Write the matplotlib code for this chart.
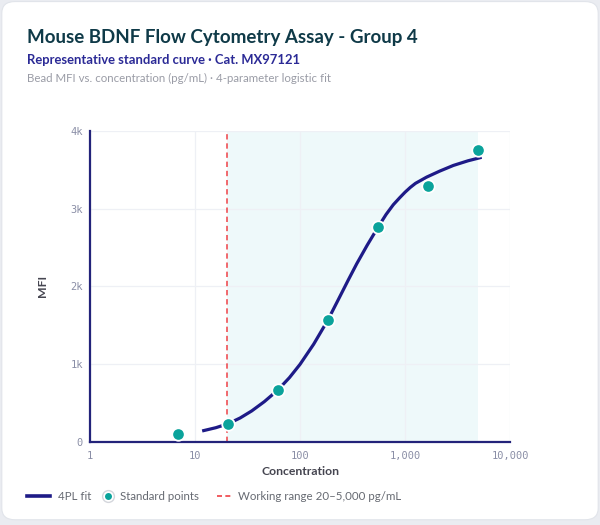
import matplotlib
matplotlib.use("Agg")
import matplotlib.pyplot as plt
from matplotlib.patches import FancyBboxPatch
from matplotlib.lines import Line2D
from matplotlib.ticker import FixedLocator, NullLocator

# standard points (3-fold dilution series)
std_conc = [6.86, 20.58, 61.73, 185.2, 555.6, 1666.7, 5000]
std_mfi = [95, 228, 666, 1568, 2758, 3286, 3759]

# 4PL fit curve
fit_conc = [11.7, 15.8, 20.6, 26.9, 34.7, 45.7, 61.2, 79.4, 100, 135, 184, 232,
            288, 347, 437, 553, 661, 774, 891, 1000, 1122, 1259, 1607, 2138,
            2884, 3981, 5370]
fit_mfi = [138, 180, 230, 305, 396, 515, 662, 825, 995, 1255, 1564, 1830,
           2080, 2290, 2530, 2760, 2925, 3050, 3140, 3210, 3272, 3325, 3405,
           3482, 3555, 3615, 3660]

work_lo, work_hi = 20, 5000

x_ticks = [1, 10, 100, 1000, 10000]
x_labels = ["1", "10", "100", "1,000", "10,000"]
y_ticks = [0, 1000, 2000, 3000, 4000]
y_labels = ["0", "1k", "2k", "3k", "4k"]

sans = ["Lato", "DejaVu Sans"]
mono = ["DejaVu Sans Mono"]
navy = "#1e1b87"
teal = "#0aa39b"
red = "#ef4146"

fig = plt.figure(figsize=(6, 5.25), dpi=100)
fig.patch.set_facecolor("#eaecf1")
card = FancyBboxPatch((0.003, 0.01), 0.994, 0.987, transform=fig.transFigure,
                      boxstyle="round,pad=0,rounding_size=0.022",
                      facecolor="white", edgecolor="#e1e4ea", linewidth=0.8, zorder=-5)
fig.patches.append(card)

fig.text(0.045, 0.929, "Mouse BDNF Flow Cytometry Assay - Group 4", family=sans,
         fontsize=13.5, fontweight="bold", color="#0f3a48", va="center")
fig.text(0.045, 0.886, "Representative standard curve · Cat. MX97121", family=sans,
         fontsize=9.4, fontweight="bold", color="#2b2a96", va="center")
fig.text(0.045, 0.850, "Bead MFI vs. concentration (pg/mL) · 4-parameter logistic fit",
         family=sans, fontsize=8.3, color="#9a9ca6", va="center")

ax = fig.add_axes([0.15, 0.1587, 0.70, 0.592])
ax.set_zorder(2)
ax.set_facecolor("white")
ax.set_xscale("log")
ax.set_xlim(1, 10000)
ax.set_ylim(0, 4000)

ax.axvspan(work_lo, work_hi, color="#eef9fa", zorder=0.5, lw=0)
ax.axvline(work_lo, color=red, lw=1.1, ls=(0, (3.5, 2.5)), zorder=2)
ax.plot(fit_conc, fit_mfi, color=navy, lw=2.3, solid_capstyle="butt",
        solid_joinstyle="round", zorder=3)
ax.plot(std_conc, std_mfi, "o", color=teal, ms=9, mec="white", mew=1.3, zorder=4)

ax.xaxis.set_major_locator(FixedLocator(x_ticks))
ax.xaxis.set_minor_locator(NullLocator())
ax.set_xticklabels(x_labels)
ax.set_yticks(y_ticks)
ax.set_yticklabels(y_labels)
for lab in ax.get_xticklabels() + ax.get_yticklabels():
    lab.set_family(mono)
    lab.set_fontsize(7.5)
    lab.set_color("#8a8ea6")
ax.tick_params(length=0)
ax.tick_params(axis="x", pad=7)
ax.tick_params(axis="y", pad=5)
ax.grid(True, color="#eef0f5", lw=0.9, zorder=0)
ax.set_axisbelow(True)

for s in ["top", "right"]:
    ax.spines[s].set_visible(False)
for s in ["left", "bottom"]:
    ax.spines[s].set_color("#23237a")
    ax.spines[s].set_linewidth(1.6)

ax.set_xlabel("Concentration", family=sans, fontsize=8.8, fontweight="bold",
              color="#454550", labelpad=3)
ax.set_ylabel("MFI", family=sans, fontsize=8.8, fontweight="bold",
              color="#454550", labelpad=16)

# legend row along the bottom, in figure pixels
W, H = 600, 525
ly = 1 - 496 / H
fig.add_artist(Line2D([27 / W, 50 / W], [ly, ly], color=navy, lw=2.6,
                      transform=fig.transFigure))
fig.add_artist(Line2D([108 / W], [ly], ls="none", marker="o", color="white", ms=8.5,
                      mec="#d4d6dc", mew=1.0, transform=fig.transFigure))
fig.add_artist(Line2D([108 / W], [ly], ls="none", marker="o", color=teal, ms=5,
                      mew=0, transform=fig.transFigure))
fig.add_artist(Line2D([217 / W, 233 / W], [ly, ly], color=red, lw=1.2,
                      ls=(0, (3, 2)), transform=fig.transFigure))
for x0, txt in [(58, "4PL fit"), (120, "Standard points"),
                (238, "Working range 20–5,000 pg/mL")]:
    fig.text(x0 / W, ly, txt, family=sans, fontsize=8.3, color="#666a72",
             va="center")

fig.savefig("out.png", dpi=100, facecolor=fig.get_facecolor())
